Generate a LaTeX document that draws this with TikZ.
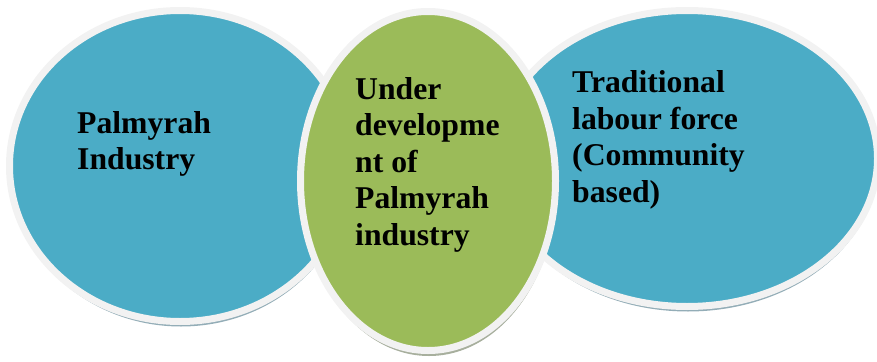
\documentclass[tikz,border=0pt]{standalone}
\usepackage{fontspec}
\setmainfont{Liberation Serif}
\usetikzlibrary{shapes.geometric}
\definecolor{aqua}{HTML}{4BACC6}
\definecolor{olive}{HTML}{9BBB59}
\definecolor{rim}{HTML}{F2F2F2}
\definecolor{shadeblue}{HTML}{93ADB7}
\definecolor{shadegreen}{HTML}{505F3C}
\tikzset{
  bubble/.style={ellipse, inner sep=0, draw=rim, line width=7pt},
  blueshadow/.style={ellipse, inner sep=0, fill=shadeblue},
  greenshadow/.style={ellipse, inner sep=0, fill=shadegreen, fill opacity=0.5},
  label/.style={anchor=north west, inner sep=0, align=left,
    font=\fontsize{31.7}{36.5}\selectfont\bfseries, text=black}
}
\begin{document}
\begin{tikzpicture}[x=1pt,y=-1pt]
\useasboundingbox (0,0) rectangle (877,361);
% left bubble
\node[blueshadow, minimum width=341pt, minimum height=316pt] (ls) at (181,168.5) {};
\node[bubble, fill=aqua, minimum width=341pt, minimum height=311pt] (left) at (180,166) {};
% right bubble
\node[blueshadow, minimum width=381pt, minimum height=301pt] (rs) at (688,161) {};
\node[bubble, fill=aqua, minimum width=381pt, minimum height=296pt] (right) at (687,158.5) {};
% middle bubble
\node[greenshadow, minimum width=256pt, minimum height=344pt] (ms) at (429,184) {};
\node[bubble, fill=olive, minimum width=255pt, minimum height=339pt] (mid) at (428,181) {};
% texts
\node[label] (t1) at (77,111) {Palmyrah\\Industry};
\node[label] (t2) at (355,77) {Under\\developme\\nt of\\Palmyrah\\industry};
\node[label] (t3) at (572,70.5) {Traditional\\labour force\\(Community\\based)};
\end{tikzpicture}
\end{document}
